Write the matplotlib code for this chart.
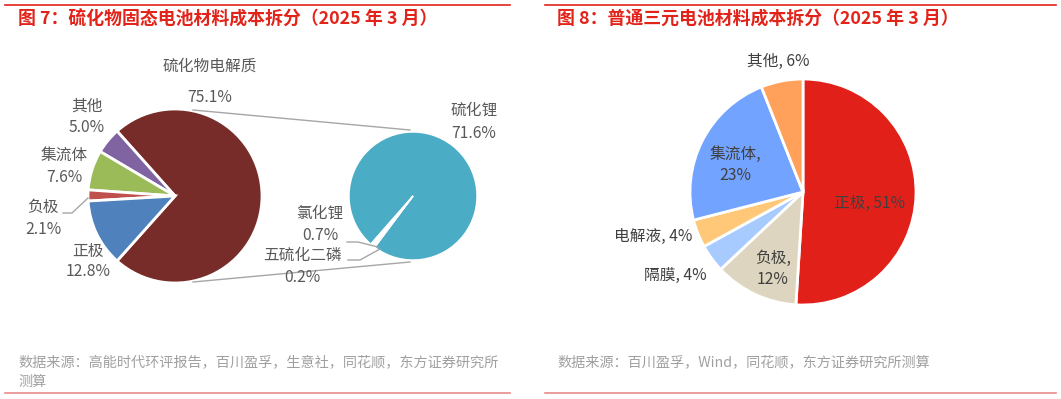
import matplotlib
matplotlib.use("Agg")
import matplotlib.pyplot as plt

plt.rcParams['font.family'] = ['Noto Sans CJK SC', 'DejaVu Sans']

# --- data: left (sulfide solid-state) ---
main_names = ['硫化物电解质', '其他', '集流体', '负极', '正极']
main_vals = [75.1, 5.0, 7.6, 2.1, 12.8]
main_colors = ['#772C2A', '#8064A2', '#9BBB59', '#C0504D', '#4F81BD']

sub_names = ['硫化锂', '氯化锂', '五硫化二磷']
sub_vals = [71.6, 0.7, 0.2]
sub_colors = ['#4BACC6', '#FFFFFF', '#4BACC6']

# --- data: right (NCM) ---
ncm_names = ['正极', '负极', '隔膜', '电解液', '集流体', '其他']
ncm_vals = [51, 12, 4, 4, 23, 6]
ncm_colors = ['#E2201A', '#DDD5BF', '#A8CBFF', '#FFC878', '#72A3FF', '#FFA15A']

W, H = 1061, 399
fig = plt.figure(figsize=(W / 100, H / 100), dpi=100)
ax = fig.add_axes([0, 0, 1, 1])


def Y(py):
    return H - py


# left main pie, "other" wedge centred on the right
main_ang = main_vals[0] / sum(main_vals) * 360
ax.pie(main_vals, colors=main_colors, center=(175, Y(196)), radius=87,
       startangle=-main_ang / 2, counterclock=True,
       wedgeprops=dict(edgecolor='white', linewidth=2))

# secondary pie
sub_big = sub_vals[0] / sum(sub_vals) * 360
sub_start = 231 - (sub_big + (360 - sub_big) / 2)
ax.pie(sub_vals, colors=sub_colors, center=(413, Y(196)), radius=64,
       startangle=sub_start, counterclock=True,
       wedgeprops=dict(edgecolor='white', linewidth=1))

# connector lines
gray = '#A6A6A6'
ax.plot([193, 410], [Y(110), Y(130)], color=gray, lw=1)
ax.plot([193, 410], [Y(282), Y(262)], color=gray, lw=1)
# leader lines
ax.plot([63, 72, 88], [Y(213), Y(213), Y(198)], color=gray, lw=1)
ax.plot([347, 358, 378], [Y(242), Y(242), Y(247)], color=gray, lw=1)
ax.plot([348, 360, 380], [Y(260), Y(260), Y(249)], color=gray, lw=1)

lab_c = '#595959'
fs = 11.3
left_pos = {'硫化物电解质': (210, 66, 97), '其他': (87, 106, 128), '集流体': (64, 155, 178),
            '负极': (43, 207, 230), '正极': (88, 251, 272)}
for n, v in zip(main_names, main_vals):
    x, y1, y2 = left_pos[n]
    ax.text(x, Y(y1), n, ha='center', va='center', fontsize=fs, color=lab_c)
    ax.text(x, Y(y2), f'{v:.1f}%', ha='center', va='center', fontsize=fs, color=lab_c)
sub_pos = {'硫化锂': (474, 110, 133), '氯化锂': (320, 213, 235), '五硫化二磷': (302, 255, 277)}
for n, v in zip(sub_names, sub_vals):
    x, y1, y2 = sub_pos[n]
    ax.text(x, Y(y1), n, ha='center', va='center', fontsize=fs, color=lab_c)
    ax.text(x, Y(y2), f'{v:.1f}%', ha='center', va='center', fontsize=fs, color=lab_c)

# right pie
ax.pie(ncm_vals, colors=ncm_colors, center=(803, Y(192)), radius=113,
       startangle=90, counterclock=False,
       wedgeprops=dict(edgecolor='white', linewidth=2))
dark = '#404040'
ncm_pos = {'正极': (870, 203, None), '负极': (773, 258, 280), '隔膜': (675, 275, None),
           '电解液': (653, 236, None), '集流体': (735, 154, 175), '其他': (778, 61, None)}
for n, v in zip(ncm_names, ncm_vals):
    x, y1, y2 = ncm_pos[n]
    if y2 is None:
        ax.text(x, Y(y1), f'{n}, {v}%', ha='center', va='center', fontsize=fs, color=dark)
    else:
        ax.text(x, Y(y1), f'{n},', ha='center', va='center', fontsize=fs, color=dark)
        ax.text(x, Y(y2), f'{v}%', ha='center', va='center', fontsize=fs, color=dark)

# frame lines, titles, sources
red = '#E2231A'
ax.plot([5, 510], [Y(5), Y(5)], color=red, lw=1.2)
ax.plot([545, 1056], [Y(5), Y(5)], color=red, lw=1.2)
ax.plot([5, 510], [Y(393), Y(393)], color='#E88A8A', lw=1.2)
ax.plot([545, 1056], [Y(393), Y(393)], color='#E88A8A', lw=1.2)

ax.text(18, Y(19), '图 7：硫化物固态电池材料成本拆分（2025 年 3 月）', ha='left', va='center',
        fontsize=12.9, fontweight='bold', color=red)
ax.text(557, Y(19), '图 8：普通三元电池材料成本拆分（2025 年 3 月）', ha='left', va='center',
        fontsize=12.9, fontweight='bold', color=red)

src_c = '#A0A0A0'
ax.text(18, Y(362), '数据来源：高能时代环评报告，百川盈孚，生意社，同花顺，东方证券研究所', ha='left',
        va='center', fontsize=10.2, color=src_c)
ax.text(18, Y(382), '测算', ha='left', va='center', fontsize=10.2, color=src_c)
ax.text(557, Y(362), '数据来源：百川盈孚，Wind，同花顺，东方证券研究所测算', ha='left',
        va='center', fontsize=10.2, color=src_c)

ax.set_xlim(0, W)
ax.set_ylim(0, H)
ax.set_aspect('auto')
ax.axis('off')

fig.savefig('out.png', dpi=100)
